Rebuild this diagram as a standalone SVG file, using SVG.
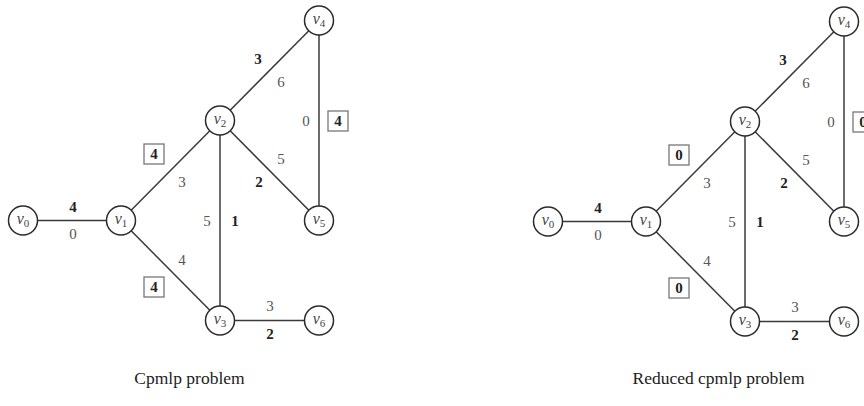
<svg xmlns="http://www.w3.org/2000/svg" width="864" height="406" viewBox="0 0 864 406">
<style>
.e{stroke:#3a3a3a;stroke-width:1.5;fill:none}
.n{fill:#fff;stroke:#2a2a2a;stroke-width:1.5}
.nl{font-family:"Liberation Serif","DejaVu Serif",serif;font-style:italic;font-size:16px;fill:#444;text-anchor:middle}
.sub{font-style:normal;font-size:11px}
.w{font-family:"Liberation Serif","DejaVu Serif",serif;font-size:15px;fill:#555;text-anchor:middle}
.b{font-family:"Liberation Serif","DejaVu Serif",serif;font-size:15px;font-weight:bold;fill:#222;text-anchor:middle}
.box{fill:#fff;stroke:#777;stroke-width:1.3}
.cap{font-family:"Liberation Serif","DejaVu Serif",serif;font-size:17.5px;fill:#222;text-anchor:middle}
</style>
<g id="connectors">
<g id="left-edges">
<line class="e" x1="23" y1="220.5" x2="121" y2="220.5"/>
<line class="e" x1="121" y1="220.5" x2="220" y2="120.5"/>
<line class="e" x1="121" y1="220.5" x2="220" y2="320.5"/>
<line class="e" x1="220" y1="120.5" x2="220" y2="320.5"/>
<line class="e" x1="220" y1="120.5" x2="319" y2="20.5"/>
<line class="e" x1="220" y1="120.5" x2="319" y2="220.5"/>
<line class="e" x1="319" y1="20.5" x2="319" y2="220.5"/>
<line class="e" x1="220" y1="320.5" x2="319" y2="320.5"/>
</g>
<g id="right-edges">
<line class="e" x1="548" y1="221.5" x2="646" y2="221.5"/>
<line class="e" x1="646" y1="221.5" x2="745" y2="121.5"/>
<line class="e" x1="646" y1="221.5" x2="745" y2="321.5"/>
<line class="e" x1="745" y1="121.5" x2="745" y2="321.5"/>
<line class="e" x1="745" y1="121.5" x2="844" y2="21.5"/>
<line class="e" x1="745" y1="121.5" x2="844" y2="221.5"/>
<line class="e" x1="844" y1="21.5" x2="844" y2="221.5"/>
<line class="e" x1="745" y1="321.5" x2="844" y2="321.5"/>
</g>
</g>
<g id="left-labels">
<text class="b" x="73" y="212">4</text>
<text class="w" x="73" y="239">0</text>
<text class="w" x="182" y="187">3</text>
<rect class="box" x="144" y="144" width="20" height="20"/><text class="b" x="154" y="159">4</text>
<text class="b" x="258" y="64">3</text>
<text class="w" x="281" y="87">6</text>
<text class="w" x="306" y="126">0</text>
<rect class="box" x="328" y="111" width="20" height="20"/><text class="b" x="338" y="126">4</text>
<text class="w" x="281" y="164">5</text>
<text class="b" x="259" y="187">2</text>
<text class="w" x="207" y="226">5</text>
<text class="b" x="235" y="226">1</text>
<text class="w" x="182" y="265">4</text>
<rect class="box" x="144" y="277" width="20" height="20"/><text class="b" x="154" y="292">4</text>
<text class="w" x="270" y="311">3</text>
<text class="b" x="270" y="339">2</text>
</g>
<g id="right-labels">
<text class="b" x="598" y="213">4</text>
<text class="w" x="598" y="240">0</text>
<text class="w" x="707" y="188">3</text>
<rect class="box" x="669" y="145" width="20" height="20"/><text class="b" x="679" y="160">0</text>
<text class="b" x="783" y="65">3</text>
<text class="w" x="806" y="88">6</text>
<text class="w" x="831" y="127">0</text>
<rect class="box" x="853" y="112" width="20" height="20"/><text class="b" x="863" y="127">0</text>
<text class="w" x="806" y="165">5</text>
<text class="b" x="784" y="188">2</text>
<text class="w" x="732" y="227">5</text>
<text class="b" x="760" y="227">1</text>
<text class="w" x="707" y="266">4</text>
<rect class="box" x="669" y="278" width="20" height="20"/><text class="b" x="679" y="293">0</text>
<text class="w" x="795" y="312">3</text>
<text class="b" x="795" y="340">2</text>
</g>
<g id="L-v0"><circle class="n" cx="23" cy="220.5" r="14.5"/><text class="nl" x="23" y="224">v<tspan class="sub" dy="3">0</tspan></text></g>
<g id="L-v1"><circle class="n" cx="121" cy="220.5" r="14.5"/><text class="nl" x="121" y="224">v<tspan class="sub" dy="3">1</tspan></text></g>
<g id="L-v2"><circle class="n" cx="220" cy="120.5" r="14.5"/><text class="nl" x="220" y="124">v<tspan class="sub" dy="3">2</tspan></text></g>
<g id="L-v3"><circle class="n" cx="220" cy="320.5" r="14.5"/><text class="nl" x="220" y="324">v<tspan class="sub" dy="3">3</tspan></text></g>
<g id="L-v4"><circle class="n" cx="319" cy="20.5" r="14.5"/><text class="nl" x="319" y="24">v<tspan class="sub" dy="3">4</tspan></text></g>
<g id="L-v5"><circle class="n" cx="319" cy="220.5" r="14.5"/><text class="nl" x="319" y="224">v<tspan class="sub" dy="3">5</tspan></text></g>
<g id="L-v6"><circle class="n" cx="319" cy="320.5" r="14.5"/><text class="nl" x="319" y="324">v<tspan class="sub" dy="3">6</tspan></text></g>
<g id="R-v0"><circle class="n" cx="548" cy="221.5" r="14.5"/><text class="nl" x="548" y="225">v<tspan class="sub" dy="3">0</tspan></text></g>
<g id="R-v1"><circle class="n" cx="646" cy="221.5" r="14.5"/><text class="nl" x="646" y="225">v<tspan class="sub" dy="3">1</tspan></text></g>
<g id="R-v2"><circle class="n" cx="745" cy="121.5" r="14.5"/><text class="nl" x="745" y="125">v<tspan class="sub" dy="3">2</tspan></text></g>
<g id="R-v3"><circle class="n" cx="745" cy="321.5" r="14.5"/><text class="nl" x="745" y="325">v<tspan class="sub" dy="3">3</tspan></text></g>
<g id="R-v4"><circle class="n" cx="844" cy="21.5" r="14.5"/><text class="nl" x="844" y="25">v<tspan class="sub" dy="3">4</tspan></text></g>
<g id="R-v5"><circle class="n" cx="844" cy="221.5" r="14.5"/><text class="nl" x="844" y="225">v<tspan class="sub" dy="3">5</tspan></text></g>
<g id="R-v6"><circle class="n" cx="844" cy="321.5" r="14.5"/><text class="nl" x="844" y="325">v<tspan class="sub" dy="3">6</tspan></text></g>
<g id="captions">
<text class="cap" x="189.5" y="384">Cpmlp problem</text>
<text class="cap" x="718.5" y="384">Reduced cpmlp problem</text>
</g>
</svg>
